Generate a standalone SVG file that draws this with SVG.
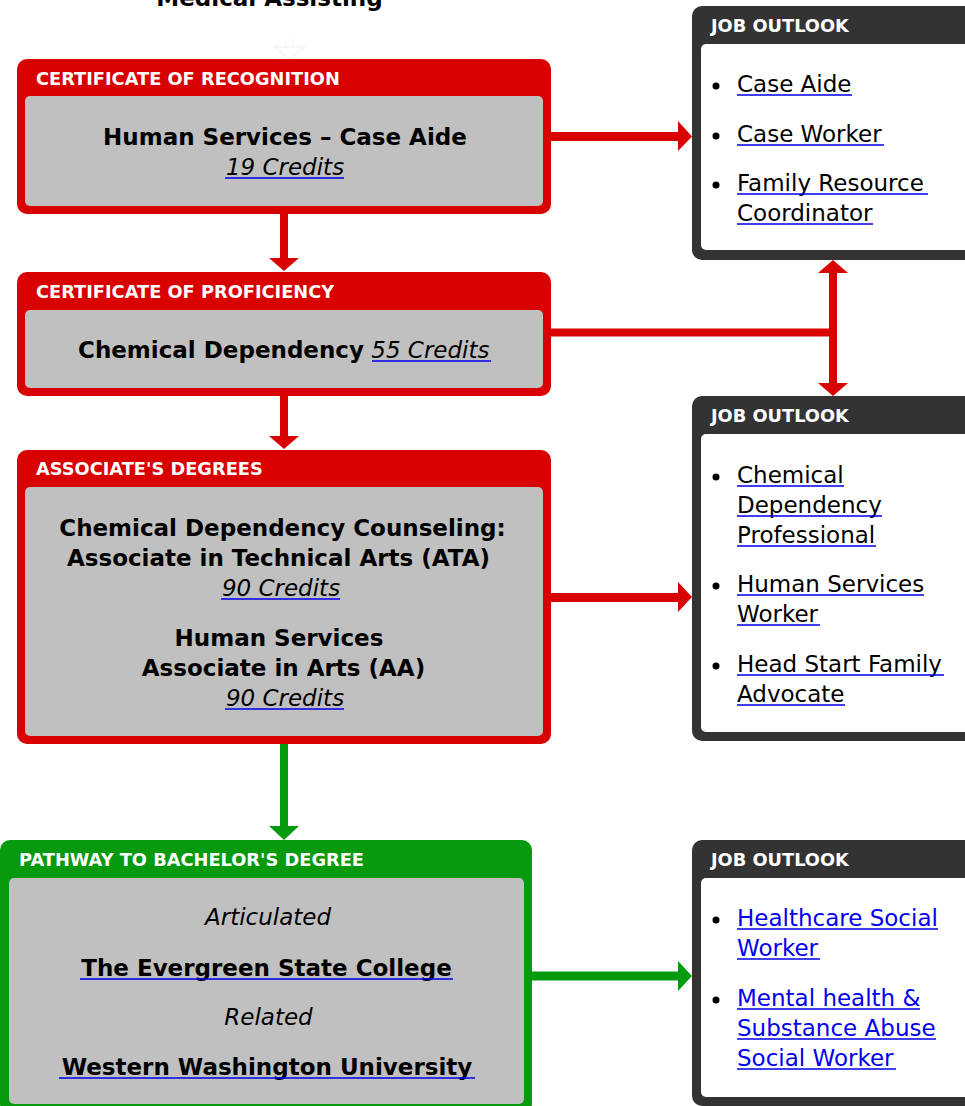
<svg xmlns="http://www.w3.org/2000/svg" width="965" height="1106" viewBox="0 0 965 1106">
<defs>
<style>
.red{fill:#d90000}
.green{fill:#089a0e}
.dark{fill:#333333}
.inner{fill:#c0c0c0}
.wbox{fill:#ffffff}
.hdr{font-family:"DejaVu Sans",Verdana,sans-serif;font-weight:bold;font-size:17.8px;fill:#ffffff}
.t{font-family:"DejaVu Sans",Verdana,sans-serif;font-size:23px;fill:#000000}
.b{font-weight:bold}
.i{font-style:italic}
.lnk{fill:#0000ee}
.ul{stroke:#0000ee;stroke-width:1.6;fill:none}
.bul{fill:#000000}
</style>
</defs>
<rect width="965" height="1106" fill="#ffffff"/>
<text x="269.5" y="6" class="t b" text-anchor="middle">Medical Assisting</text>

<g id="connectors">
  <g id="faint-arrow">
    <rect x="286" y="40" width="7" height="8" fill="#ffffff" stroke="#f0f0f0" stroke-width="0.8" rx="2"/>
    <polygon points="274,47 305,47 289.5,59" fill="#ffffff" stroke="#e8e8e8" stroke-width="0.8"/>
  </g>
  <g class="red">
    <rect x="551" y="132" width="128" height="9"/>
    <polygon points="678,121 678,151 692,136.5"/>
    <rect x="280" y="213" width="8" height="47"/>
    <polygon points="269,258 299,258 284,271"/>
    <rect x="551" y="328.5" width="286" height="8"/>
    <rect x="829" y="270" width="8" height="115"/>
    <polygon points="818,273 848,273 833,260"/>
    <polygon points="818,383 848,383 833,396"/>
    <rect x="280" y="395" width="8" height="43"/>
    <polygon points="269,436 299,436 284,449"/>
    <rect x="551" y="593" width="128" height="9"/>
    <polygon points="678,582 678,612 692,597"/>
  </g>
  <g class="green">
    <rect x="280" y="743" width="8" height="85"/>
    <polygon points="269,826 299,826 284,840"/>
    <rect x="531" y="971.5" width="148" height="9"/>
    <polygon points="678,961 678,991 692,976"/>
  </g>
</g>

<g id="cert-recognition">
  <rect x="17" y="59" width="534" height="155" rx="10" class="red"/>
  <rect x="25" y="96" width="518" height="110" rx="5" class="inner"/>
  <text x="36" y="85" class="hdr">CERTIFICATE OF RECOGNITION</text>
  <text x="285" y="145" class="t b" text-anchor="middle">Human Services – Case Aide</text>
  <text x="285" y="175" class="t i" text-anchor="middle">19 Credits</text>
  <line x1="225" y1="178" x2="344" y2="178" class="ul"/>
</g>

<g id="cert-proficiency">
  <rect x="17" y="272" width="534" height="124" rx="10" class="red"/>
  <rect x="25" y="310" width="518" height="78" rx="5" class="inner"/>
  <text x="36" y="298" class="hdr">CERTIFICATE OF PROFICIENCY</text>
  <text x="78" y="358" class="t"><tspan class="b">Chemical Dependency</tspan> <tspan class="i">55 Credits</tspan></text>
  <line x1="372" y1="361" x2="491" y2="361" class="ul"/>
</g>

<g id="associate-degrees">
  <rect x="17" y="450" width="534" height="294" rx="10" class="red"/>
  <rect x="25" y="487" width="518" height="249" rx="5" class="inner"/>
  <text x="36" y="475" class="hdr">ASSOCIATE'S DEGREES</text>
  <text x="282.5" y="536" class="t b" text-anchor="middle">Chemical Dependency Counseling:</text>
  <text x="278.5" y="566" class="t b" text-anchor="middle">Associate in Technical Arts (ATA)</text>
  <text x="281" y="596" class="t i" text-anchor="middle">90 Credits</text>
  <line x1="221" y1="599" x2="340" y2="599" class="ul"/>
  <text x="279" y="646" class="t b" text-anchor="middle">Human Services</text>
  <text x="283.5" y="676" class="t b" text-anchor="middle">Associate in Arts (AA)</text>
  <text x="285" y="706" class="t i" text-anchor="middle">90 Credits</text>
  <line x1="225" y1="709" x2="344" y2="709" class="ul"/>
</g>

<g id="pathway-bachelor">
  <rect x="0" y="840" width="532" height="274" rx="10" class="green"/>
  <rect x="9" y="878" width="515" height="226" rx="5" class="inner"/>
  <text x="19" y="866" class="hdr">PATHWAY TO BACHELOR'S DEGREE</text>
  <text x="268" y="925" class="t i" text-anchor="middle">Articulated</text>
  <text x="266.5" y="976" class="t b" text-anchor="middle">The Evergreen State College</text>
  <line x1="80" y1="979" x2="453" y2="979" class="ul"/>
  <text x="268.5" y="1025" class="t i" text-anchor="middle">Related</text>
  <text x="267" y="1075" class="t b" text-anchor="middle">Western Washington University</text>
  <line x1="59" y1="1078" x2="475" y2="1078" class="ul"/>
</g>

<g id="job-outlook-1">
  <rect x="692" y="6" width="290" height="254" rx="10" class="dark"/>
  <rect x="701" y="44" width="280" height="206" rx="5" class="wbox"/>
  <text x="711" y="32" class="hdr">JOB OUTLOOK</text>
  <circle cx="716" cy="86" r="3.5" class="bul"/>
  <text x="737" y="92" class="t">Case Aide</text>
  <line x1="737" y1="95" x2="852" y2="95" class="ul"/>
  <circle cx="716" cy="136" r="3.5" class="bul"/>
  <text x="737" y="142" class="t">Case Worker</text>
  <line x1="737" y1="145" x2="884" y2="145" class="ul"/>
  <circle cx="716" cy="185" r="3.5" class="bul"/>
  <text x="737" y="191" class="t">Family Resource</text>
  <line x1="737" y1="194" x2="928" y2="194" class="ul"/>
  <text x="737" y="221" class="t">Coordinator</text>
  <line x1="737" y1="224" x2="873" y2="224" class="ul"/>
</g>

<g id="job-outlook-2">
  <rect x="692" y="396" width="290" height="345" rx="10" class="dark"/>
  <rect x="701" y="434" width="280" height="298" rx="5" class="wbox"/>
  <text x="711" y="422" class="hdr">JOB OUTLOOK</text>
  <circle cx="716" cy="477" r="3.5" class="bul"/>
  <text x="737" y="483" class="t">Chemical</text>
  <line x1="737" y1="486" x2="844" y2="486" class="ul"/>
  <text x="737" y="513" class="t">Dependency</text>
  <line x1="737" y1="516" x2="882" y2="516" class="ul"/>
  <text x="737" y="543" class="t">Professional</text>
  <line x1="737" y1="546" x2="876" y2="546" class="ul"/>
  <circle cx="716" cy="586" r="3.5" class="bul"/>
  <text x="737" y="592" class="t">Human Services</text>
  <line x1="737" y1="595" x2="924" y2="595" class="ul"/>
  <text x="737" y="622" class="t">Worker</text>
  <line x1="737" y1="625" x2="820" y2="625" class="ul"/>
  <circle cx="716" cy="666" r="3.5" class="bul"/>
  <text x="737" y="672" class="t">Head Start Family</text>
  <line x1="737" y1="675" x2="944" y2="675" class="ul"/>
  <text x="737" y="702" class="t">Advocate</text>
  <line x1="737" y1="705" x2="845" y2="705" class="ul"/>
</g>

<g id="job-outlook-3">
  <rect x="692" y="840" width="290" height="266" rx="10" class="dark"/>
  <rect x="701" y="878" width="280" height="219" rx="5" class="wbox"/>
  <text x="711" y="866" class="hdr">JOB OUTLOOK</text>
  <circle cx="716" cy="920" r="3.5" class="bul"/>
  <text x="737" y="926" class="t lnk">Healthcare Social</text>
  <line x1="737" y1="929" x2="938" y2="929" class="ul"/>
  <text x="737" y="956" class="t lnk">Worker</text>
  <line x1="737" y1="959" x2="820" y2="959" class="ul"/>
  <circle cx="716" cy="1000" r="3.5" class="bul"/>
  <text x="737" y="1006" class="t lnk">Mental health &amp;</text>
  <line x1="737" y1="1009" x2="920" y2="1009" class="ul"/>
  <text x="737" y="1036" class="t lnk">Substance Abuse</text>
  <line x1="737" y1="1039" x2="936" y2="1039" class="ul"/>
  <text x="737" y="1066" class="t lnk">Social Worker</text>
  <line x1="737" y1="1069" x2="896" y2="1069" class="ul"/>
</g>
</svg>
